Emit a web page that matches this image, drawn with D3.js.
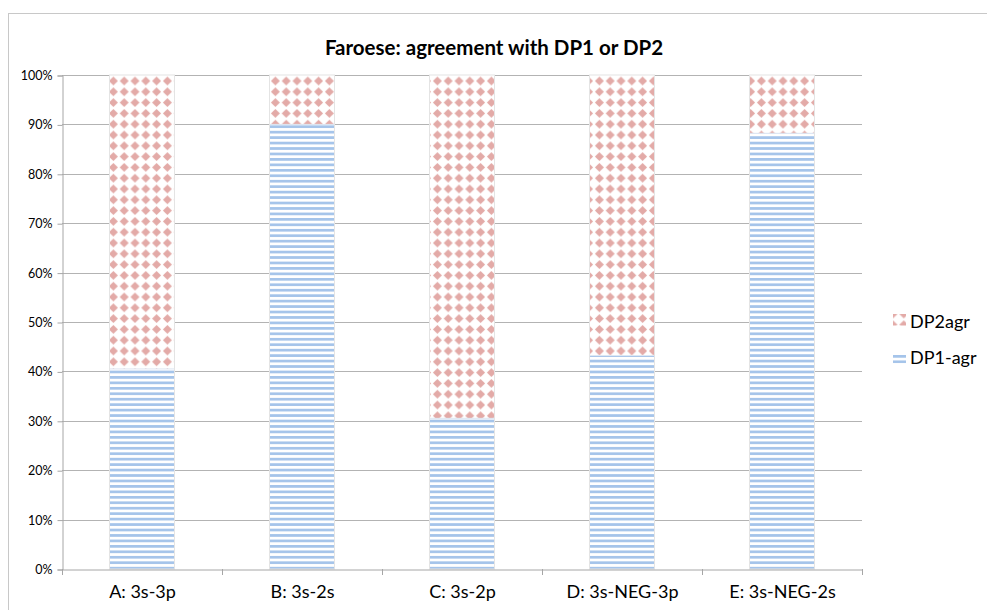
<!DOCTYPE html>
<meta charset="utf-8">
<script src="https://d3js.org/d3.v7.min.js"></script>
<style>
  body { margin: 0; background: #fff; }
  text { font-family: Lato, "Open Sans", sans-serif; fill: #000; }
</style>
<div id="chart"></div>
<script>
  // data
  const categories = ["A: 3s-3p", "B: 3s-2s", "C: 3s-2p", "D: 3s-NEG-3p", "E: 3s-NEG-2s"];
  const dp1agr = [40.5, 90, 30.5, 43.2, 88.2];
  const dp2agr = [59.5, 10, 69.5, 56.8, 11.8];
  const yTicks = [0, 10, 20, 30, 40, 50, 60, 70, 80, 90, 100];

  const W = 987, H = 610;
  const margin = {top: 75, left: 62, right: 125, bottom: 41};

  const svg = d3.select("#chart").append("svg")
    .attr("width", W).attr("height", H);

  // outer chart border
  svg.append("rect")
    .attr("x", 8.5).attr("y", 13.5)
    .attr("width", W - 8).attr("height", H)
    .attr("fill", "none").attr("stroke", "#c8c8c8");

  // fill patterns
  const defs = svg.append("defs");
  function stripePattern(id, oy) {
    const p = defs.append("pattern")
      .attr("id", id).attr("patternUnits", "userSpaceOnUse")
      .attr("y", oy).attr("width", 8).attr("height", 5.45);
    p.append("rect").attr("width", 8).attr("height", 5.45).attr("fill", "#fff");
    p.append("rect").attr("width", 8).attr("height", 2.7).attr("fill", "#a5c4ea");
  }
  function diamondPattern(id, ox, oy) {
    const p = defs.append("pattern")
      .attr("id", id).attr("patternUnits", "userSpaceOnUse")
      .attr("x", ox).attr("y", oy).attr("width", 10.8).attr("height", 10.8);
    p.append("rect").attr("width", 10.8).attr("height", 10.8).attr("fill", "#fff");
    p.append("path").attr("d", "M5.4,0.9 L9.9,5.4 L5.4,9.9 L0.9,5.4 Z").attr("fill", "#e3aaa7");
  }
  stripePattern("stripes", 0);
  diamondPattern("diamonds", 0, 0);

  const x = d3.scaleBand().domain(categories)
    .range([margin.left, W - margin.right]).paddingInner(0.6).paddingOuter(0.3);
  const xEdge = d3.scaleBand().domain(categories)
    .range([margin.left, W - margin.right]);
  const y = d3.scaleLinear().domain([0, 100]).range([H - margin.bottom, margin.top]);

  // gridlines
  svg.append("g").selectAll("line").data(yTicks.slice(1)).join("line")
    .attr("x1", margin.left).attr("x2", W - margin.right)
    .attr("y1", d => Math.round(y(d)) + 0.5).attr("y2", d => Math.round(y(d)) + 0.5)
    .attr("stroke", "#b3b3b3");

  // y axis
  const yAxis = svg.append("g")
    .attr("transform", `translate(${margin.left + 0.5},0.5)`)
    .call(d3.axisLeft(y).tickValues(yTicks).tickFormat(d => d + "%").tickSize(5).tickPadding(5));
  yAxis.select(".domain").attr("stroke", "#a6a6a6");
  yAxis.selectAll(".tick line").attr("stroke", "#a6a6a6");
  yAxis.selectAll("text").style("font-size", "12.5px");

  // bars
  const rows = categories.map((c, i) => ({cat: c, a: dp1agr[i], b: dp2agr[i]}));
  const bars = svg.append("g");
  bars.selectAll(".dp1").data(rows).join("rect")
    .attr("class", "dp1")
    .attr("x", d => x(d.cat)).attr("width", x.bandwidth())
    .attr("y", d => y(d.a)).attr("height", d => y(0) - y(d.a))
    .attr("fill", "url(#stripes)");
  bars.selectAll(".dp2").data(rows).join("rect")
    .attr("class", "dp2")
    .attr("x", d => x(d.cat)).attr("width", x.bandwidth())
    .attr("y", d => y(d.a + d.b)).attr("height", d => y(d.a) - y(d.a + d.b))
    .attr("fill", "url(#diamonds)");
  // faint bar edges
  bars.selectAll(".edge").data(rows).join("rect")
    .attr("class", "edge")
    .attr("x", d => x(d.cat) - 0.5).attr("width", x.bandwidth() + 1)
    .attr("y", d => y(d.a + d.b)).attr("height", d => y(0) - y(d.a + d.b))
    .attr("fill", "none").attr("stroke", "#e4e4e4");
  bars.selectAll(".split").data(rows).join("line")
    .attr("class", "split")
    .attr("x1", d => x(d.cat)).attr("x2", d => x(d.cat) + x.bandwidth())
    .attr("y1", d => y(d.a)).attr("y2", d => y(d.a))
    .attr("stroke", "#dde6f2");

  // x axis
  const xAxis = svg.append("g")
    .attr("transform", `translate(0.5,${Math.round(y(0)) + 0.5})`)
    .call(d3.axisBottom(xEdge).tickSize(0).tickPadding(16));
  xAxis.select(".domain").attr("stroke", "#a6a6a6");
  xAxis.selectAll("text").style("font-size", "18px");
  svg.append("g").selectAll("line")
    .data(categories.map(c => xEdge(c)).concat([W - margin.right]))
    .join("line")
    .attr("x1", d => Math.round(d) + 0.5).attr("x2", d => Math.round(d) + 0.5)
    .attr("y1", Math.round(y(0))).attr("y2", Math.round(y(0)) + 6)
    .attr("stroke", "#a6a6a6");

  // title
  svg.append("text")
    .attr("x", 494).attr("y", 55).attr("text-anchor", "middle")
    .style("font-size", "20.5px").style("font-weight", "bold")
    .text("Faroese: agreement with DP1 or DP2");

  // legend
  const lx = 893;
  diamondPattern("diamondsLeg", lx - 5.4, 314 - 5.4);
  stripePattern("stripesLeg", 355);
  const legend = [
    {label: "DP2agr", fill: "url(#diamondsLeg)", y: 314, h: 11.5, ty: 328},
    {label: "DP1-agr", fill: "url(#stripesLeg)", y: 355, h: 8.2, ty: 364}
  ];
  const lg = svg.append("g").selectAll("g").data(legend).join("g");
  lg.append("rect")
    .attr("x", lx).attr("y", d => d.y).attr("width", 13).attr("height", d => d.h)
    .attr("fill", d => d.fill);
  lg.append("text")
    .attr("x", 910).attr("y", d => d.ty)
    .style("font-size", "18px")
    .text(d => d.label);
</script>
